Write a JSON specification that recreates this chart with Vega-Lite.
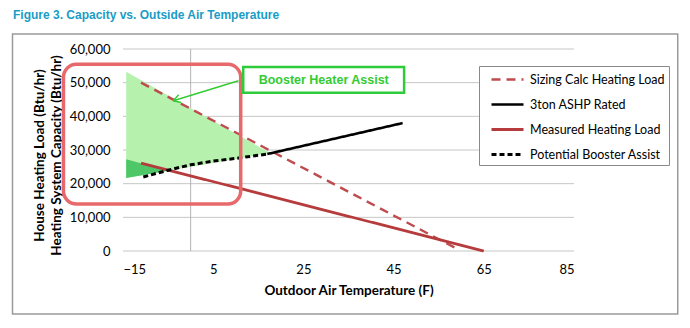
{
  "$schema": "https://vega.github.io/schema/vega-lite/v6.json",
  "width": 451,
  "height": 202,
  "autosize": {"type": "none"},
  "padding": {"left": 123, "top": 49, "right": 116, "bottom": 77},
  "background": "#ffffff",
  "data": {"values": [{}]},
  "title": {
    "text": "Figure 3. Capacity vs. Outside Air Temperature",
    "anchor": "start",
    "frame": "group",
    "dx": -110,
    "offset": 6,
    "baseline": "middle",
    "font": "Liberation Sans",
    "fontSize": 12,
    "fontWeight": "bold",
    "color": "#1a9cc6"
  },
  "resolve": {"axis": {"x": "independent", "y": "independent"}},
  "config": {
    "view": {"stroke": null},
    "axis": {
      "labelFont": "Lato",
      "labelFontSize": 13,
      "labelColor": "#000000",
      "titleFont": "Lato",
      "titleFontSize": 13.5,
      "titleFontWeight": "bold",
      "titleColor": "#000000",
      "ticks": false,
      "domain": false,
      "gridColor": "#c6c6c6",
      "gridWidth": 1
    }
  },
  "datasets": {
    "lines": [
      {"series": "Sizing Calc Heating Load", "temp": -11, "load": 50000},
      {"series": "Sizing Calc Heating Load", "temp": 58.7, "load": 900},
      {"series": "3ton ASHP Rated", "temp": 17, "load": 28800},
      {"series": "3ton ASHP Rated", "temp": 47, "load": 38000},
      {"series": "Measured Heating Load", "temp": -11, "load": 26100},
      {"series": "Measured Heating Load", "temp": 65, "load": 0},
      {"series": "Potential Booster Assist", "temp": -10.5, "load": 22000},
      {"series": "Potential Booster Assist", "temp": -5, "load": 24000},
      {"series": "Potential Booster Assist", "temp": 0, "load": 25600},
      {"series": "Potential Booster Assist", "temp": 5, "load": 26700},
      {"series": "Potential Booster Assist", "temp": 10, "load": 27500},
      {"series": "Potential Booster Assist", "temp": 17, "load": 28800}
    ],
    "fills": [
      {"region": "light", "temp": -14.3, "top": 53250, "bottom": 21680},
      {"region": "light", "temp": 17.6, "top": 29100, "bottom": 29100},
      {"region": "dark", "temp": -14.3, "top": 27230, "bottom": 21680},
      {"region": "dark", "temp": -5, "top": 23850, "bottom": 23850}
    ],
    "grid": [
      {"load": 0}, {"load": 10000}, {"load": 20000}, {"load": 30000},
      {"load": 40000}, {"load": 50000}, {"load": 60000}
    ]
  },
  "layer": [
    {
      "data": {"name": "lines"},
      "mark": {"type": "line", "opacity": 0},
      "encoding": {
        "x": {
          "field": "temp",
          "type": "quantitative",
          "scale": {"domain": [-15, 85], "nice": false, "zero": false},
          "axis": {
            "values": [-15, 5, 25, 45, 65, 85],
            "grid": false,
            "labelPadding": 12,
            "title": "Outdoor Air Temperature (F)",
            "titlePadding": 7
          }
        },
        "y": {
          "field": "load",
          "type": "quantitative",
          "scale": {"domain": [0, 60000], "nice": false, "zero": true},
          "axis": {
            "values": [0, 10000, 20000, 30000, 40000, 50000, 60000],
            "format": ",.0f",
            "grid": false,
            "labelPadding": 13,
            "title": ["House Heating Load (Btu/hr)", "Heating System Capacity (Btu/hr)"],
            "titlePadding": 5,
            "titleLineHeight": 17,
            "titleX": -77,
            "titleY": 106
          }
        },
        "detail": {"field": "series"}
      }
    },
    {
      "data": {"name": "grid"},
      "mark": {"type": "rule", "color": "#c6c6c6", "strokeWidth": 1},
      "encoding": {"y": {"field": "load", "type": "quantitative", "axis": null}}
    },
    {
      "mark": {"type": "rule", "color": "#b4b4b4", "strokeWidth": 1},
      "encoding": {"x": {"datum": 0, "type": "quantitative", "axis": null}}
    },
    {
      "data": {"name": "fills"},
      "transform": [{"filter": "datum.region === 'light'"}],
      "mark": {"type": "area", "fill": "#b6f2ae", "opacity": 1},
      "encoding": {
        "x": {"field": "temp", "type": "quantitative", "axis": null},
        "y": {"field": "top", "type": "quantitative", "axis": null},
        "y2": {"field": "bottom"}
      }
    },
    {
      "data": {"name": "fills"},
      "transform": [{"filter": "datum.region === 'dark'"}],
      "mark": {"type": "area", "fill": "#4dc767", "opacity": 1},
      "encoding": {
        "x": {"field": "temp", "type": "quantitative", "axis": null},
        "y": {"field": "top", "type": "quantitative", "axis": null},
        "y2": {"field": "bottom"}
      }
    },
    {
      "data": {"name": "lines"},
      "mark": {"type": "line", "clip": false},
      "encoding": {
        "x": {"field": "temp", "type": "quantitative", "axis": null},
        "y": {"field": "load", "type": "quantitative", "axis": null},
        "stroke": {
          "field": "series",
          "type": "nominal",
          "scale": {
            "domain": ["Sizing Calc Heating Load", "3ton ASHP Rated", "Measured Heating Load", "Potential Booster Assist"],
            "range": ["#bf4b4e", "#000000", "#b53b3c", "#000000"]
          },
          "legend": {
            "title": null,
            "orient": "none",
            "legendX": 356,
            "legendY": 17,
            "symbolType": "M-2,0L2,0",
            "symbolSize": 256,
            "symbolOffset": 15,
            "labelFont": "Lato",
            "labelFontSize": 12.5,
            "labelColor": "#000000",
            "labelOffset": 13,
            "padding": 4,
            "rowPadding": 9,
            "fillColor": "#ffffff",
            "strokeColor": "#8a8a8a"
          }
        },
        "strokeDash": {
          "field": "series",
          "type": "nominal",
          "scale": {
            "domain": ["Sizing Calc Heating Load", "3ton ASHP Rated", "Measured Heating Load", "Potential Booster Assist"],
            "range": [[9, 6], [1, 0], [1, 0], [5, 3]]
          }
        },
        "strokeWidth": {
          "field": "series",
          "type": "nominal",
          "scale": {
            "domain": ["Sizing Calc Heating Load", "3ton ASHP Rated", "Measured Heating Load", "Potential Booster Assist"],
            "range": [2.4, 3, 2.2, 3]
          }
        },
        "order": {"field": "temp", "type": "quantitative"}
      }
    },
    {
      "mark": {"type": "rect", "fillOpacity": 0, "stroke": "#e8696b", "strokeWidth": 3.5, "cornerRadius": 13, "clip": false},
      "encoding": {
        "x": {"datum": -28.2, "type": "quantitative", "axis": null},
        "x2": {"datum": 11.1},
        "y": {"datum": 55450, "type": "quantitative", "axis": null},
        "y2": {"datum": 13960}
      }
    },
    {
      "mark": {"type": "rect", "fill": "#ffffff", "stroke": "#2ecc3a", "strokeWidth": 2.5, "clip": false},
      "encoding": {
        "x": {"datum": 11.66, "type": "quantitative", "axis": null},
        "x2": {"datum": 47.33},
        "y": {"datum": 54650, "type": "quantitative", "axis": null},
        "y2": {"datum": 47020}
      }
    },
    {
      "mark": {"type": "text", "text": "Booster Heater Assist", "font": "Liberation Sans", "fontSize": 12.5, "fontWeight": "bold", "color": "#33cc33", "align": "center", "baseline": "middle"},
      "encoding": {
        "x": {"datum": 29.5, "type": "quantitative", "axis": null},
        "y": {"datum": 50790, "type": "quantitative", "axis": null}
      }
    },
    {
      "mark": {"type": "rule", "color": "#33cc33", "strokeWidth": 1.4},
      "encoding": {
        "x": {"datum": 10.6, "type": "quantitative", "axis": null},
        "x2": {"datum": -3.85},
        "y": {"datum": 50580, "type": "quantitative", "axis": null},
        "y2": {"datum": 44640}
      }
    },
    {
      "mark": {"type": "rule", "color": "#33cc33", "strokeWidth": 1.4},
      "encoding": {
        "x": {"datum": -2.13, "type": "quantitative", "axis": null},
        "x2": {"datum": -3.85},
        "y": {"datum": 44100, "type": "quantitative", "axis": null},
        "y2": {"datum": 44640}
      }
    },
    {
      "mark": {"type": "rule", "color": "#33cc33", "strokeWidth": 1.4},
      "encoding": {
        "x": {"datum": -2.66, "type": "quantitative", "axis": null},
        "x2": {"datum": -3.85},
        "y": {"datum": 46390, "type": "quantitative", "axis": null},
        "y2": {"datum": 44640}
      }
    },
    {
      "mark": {"type": "rect", "fillOpacity": 0, "stroke": "#9a9a9a", "strokeWidth": 1.5, "clip": false},
      "encoding": {
        "x": {"datum": -39.5, "type": "quantitative", "axis": null},
        "x2": {"datum": 108},
        "y": {"datum": 64450, "type": "quantitative", "axis": null},
        "y2": {"datum": -18710}
      }
    }
  ]
}
